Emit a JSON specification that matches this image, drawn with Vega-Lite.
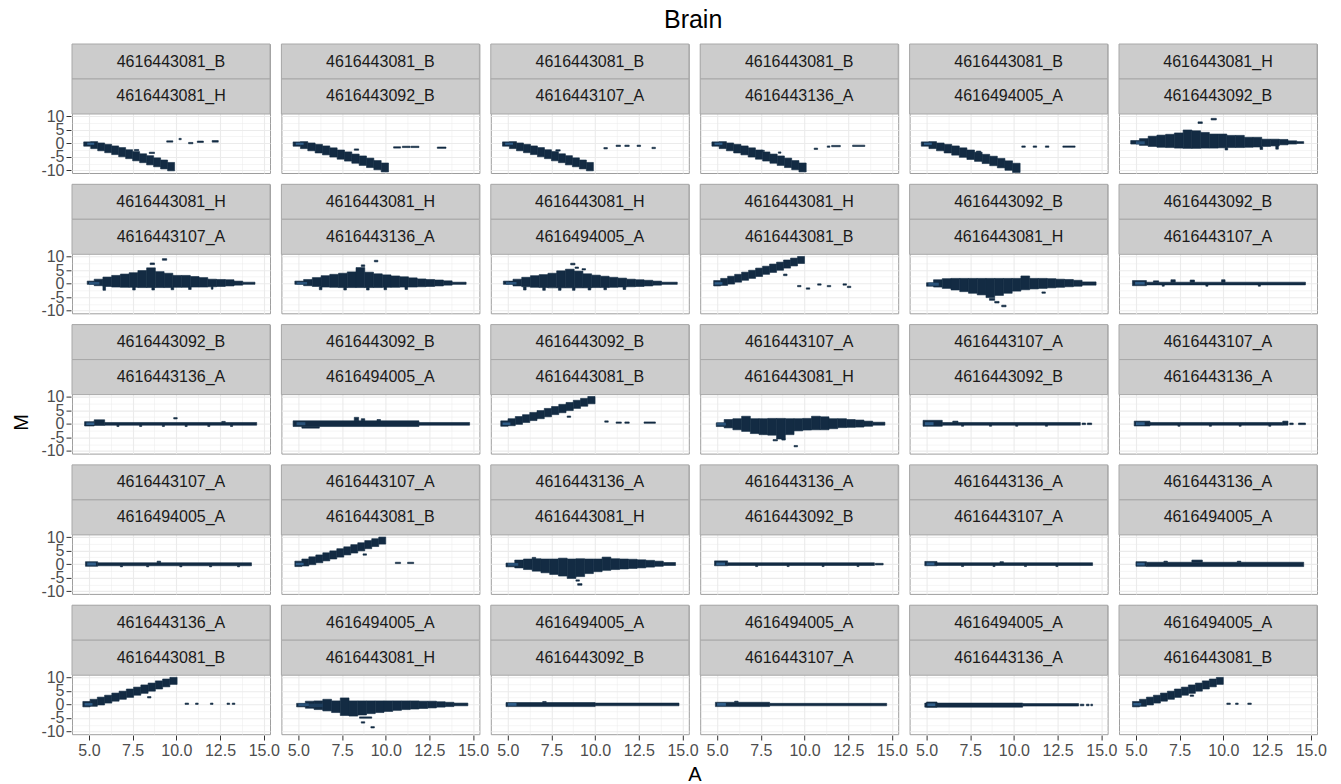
{
"$schema": "https://vega.github.io/schema/vega-lite/v6.json",
"background": "white",
"padding": {"left": 11, "top": 8, "right": 5, "bottom": 5},
"title": {"text": "Brain", "fontSize": 25, "font": "Liberation Sans", "fontWeight": "normal", "color": "#000000", "anchor": "middle", "dx": 24, "offset": 10},
"config": {
  "font": "Liberation Sans",
  "view": {"stroke": "#9E9E9E", "strokeWidth": 1},
  "axis": {"labelFont": "Liberation Sans", "labelFontSize": 16, "labelColor": "#4D4D4D", "tickColor": "#333333", "tickSize": 5, "domain": false, "gridColor": "#EBEBEB", "labelPadding": 2, "labelOverlap": false, "labelFlush": false, "title": null}
},
"data": {"values": [
{"r":1,"c":1,"s1":"4616443081_B","s2":"4616443081_H"},
{"r":1,"c":2,"s1":"4616443081_B","s2":"4616443092_B"},
{"r":1,"c":3,"s1":"4616443081_B","s2":"4616443107_A"},
{"r":1,"c":4,"s1":"4616443081_B","s2":"4616443136_A"},
{"r":1,"c":5,"s1":"4616443081_B","s2":"4616494005_A"},
{"r":1,"c":6,"s1":"4616443081_H","s2":"4616443092_B"},
{"r":2,"c":1,"s1":"4616443081_H","s2":"4616443107_A"},
{"r":2,"c":2,"s1":"4616443081_H","s2":"4616443136_A"},
{"r":2,"c":3,"s1":"4616443081_H","s2":"4616494005_A"},
{"r":2,"c":4,"s1":"4616443081_H","s2":"4616443081_B"},
{"r":2,"c":5,"s1":"4616443092_B","s2":"4616443081_H"},
{"r":2,"c":6,"s1":"4616443092_B","s2":"4616443107_A"},
{"r":3,"c":1,"s1":"4616443092_B","s2":"4616443136_A"},
{"r":3,"c":2,"s1":"4616443092_B","s2":"4616494005_A"},
{"r":3,"c":3,"s1":"4616443092_B","s2":"4616443081_B"},
{"r":3,"c":4,"s1":"4616443107_A","s2":"4616443081_H"},
{"r":3,"c":5,"s1":"4616443107_A","s2":"4616443092_B"},
{"r":3,"c":6,"s1":"4616443107_A","s2":"4616443136_A"},
{"r":4,"c":1,"s1":"4616443107_A","s2":"4616494005_A"},
{"r":4,"c":2,"s1":"4616443107_A","s2":"4616443081_B"},
{"r":4,"c":3,"s1":"4616443136_A","s2":"4616443081_H"},
{"r":4,"c":4,"s1":"4616443136_A","s2":"4616443092_B"},
{"r":4,"c":5,"s1":"4616443136_A","s2":"4616443107_A"},
{"r":4,"c":6,"s1":"4616443136_A","s2":"4616494005_A"},
{"r":5,"c":1,"s1":"4616443136_A","s2":"4616443081_B"},
{"r":5,"c":2,"s1":"4616494005_A","s2":"4616443081_H"},
{"r":5,"c":3,"s1":"4616494005_A","s2":"4616443092_B"},
{"r":5,"c":4,"s1":"4616494005_A","s2":"4616443107_A"},
{"r":5,"c":5,"s1":"4616494005_A","s2":"4616443136_A"},
{"r":5,"c":6,"s1":"4616494005_A","s2":"4616443081_B"},

{"r":1,"c":1,"a":4.7,"b":5.1,"m":-1.1,"n":0.5},
{"r":1,"c":1,"a":5.1,"b":5.5,"m":-2.0,"n":0.6},
{"r":1,"c":1,"a":5.5,"b":5.9,"m":-2.8,"n":0.1},
{"r":1,"c":1,"a":5.9,"b":6.3,"m":-3.5,"n":-0.4},
{"r":1,"c":1,"a":6.3,"b":6.7,"m":-4.2,"n":-1.0},
{"r":1,"c":1,"a":6.7,"b":7.1,"m":-5.0,"n":-1.6},
{"r":1,"c":1,"a":7.1,"b":7.5,"m":-5.7,"n":-2.4},
{"r":1,"c":1,"a":7.5,"b":7.9,"m":-6.5,"n":-3.1},
{"r":1,"c":1,"a":7.9,"b":8.3,"m":-7.2,"n":-3.9},
{"r":1,"c":1,"a":8.3,"b":8.7,"m":-8.0,"n":-4.6},
{"r":1,"c":1,"a":8.7,"b":9.1,"m":-8.7,"n":-5.4},
{"r":1,"c":1,"a":9.1,"b":9.5,"m":-9.5,"n":-6.2},
{"r":1,"c":1,"a":9.5,"b":9.9,"m":-10.2,"n":-7.1},
{"r":1,"c":1,"a":7.6,"b":7.85,"m":-2.8,"n":-2.3},
{"r":1,"c":1,"a":8.45,"b":8.75,"m":-3.8,"n":-3.3},
{"r":1,"c":1,"a":9.45,"b":9.8,"m":0.4,"n":0.9},
{"r":1,"c":1,"a":10.15,"b":10.28,"m":1.3,"n":1.8},
{"r":1,"c":1,"a":10.7,"b":10.95,"m":-0.2,"n":0.3},
{"r":1,"c":1,"a":11.2,"b":11.55,"m":0.3,"n":0.8},
{"r":1,"c":1,"a":12.05,"b":12.4,"m":0.4,"n":1.0},
{"r":1,"c":1,"a":4.9,"b":5.3,"m":-0.6,"n":0.2,"k":25},

{"r":1,"c":2,"a":4.7,"b":5.12,"m":-1.1,"n":0.5},
{"r":1,"c":2,"a":5.12,"b":5.54,"m":-2.0,"n":0.6},
{"r":1,"c":2,"a":5.54,"b":5.96,"m":-2.8,"n":0.1},
{"r":1,"c":2,"a":5.96,"b":6.38,"m":-3.6,"n":-0.4},
{"r":1,"c":2,"a":6.38,"b":6.8,"m":-4.3,"n":-1.0},
{"r":1,"c":2,"a":6.8,"b":7.22,"m":-5.1,"n":-1.7},
{"r":1,"c":2,"a":7.22,"b":7.64,"m":-5.9,"n":-2.5},
{"r":1,"c":2,"a":7.64,"b":8.06,"m":-6.6,"n":-3.2},
{"r":1,"c":2,"a":8.06,"b":8.48,"m":-7.4,"n":-4.0},
{"r":1,"c":2,"a":8.48,"b":8.9,"m":-8.2,"n":-4.7},
{"r":1,"c":2,"a":8.9,"b":9.32,"m":-9.0,"n":-5.5},
{"r":1,"c":2,"a":9.32,"b":9.74,"m":-9.8,"n":-6.4},
{"r":1,"c":2,"a":9.74,"b":10.16,"m":-10.6,"n":-7.3},
{"r":1,"c":2,"a":8.2,"b":8.45,"m":-2.6,"n":-2.1},
{"r":1,"c":2,"a":10.45,"b":10.85,"m":-1.8,"n":-1.3},
{"r":1,"c":2,"a":10.95,"b":11.4,"m":-1.6,"n":-1.1},
{"r":1,"c":2,"a":11.45,"b":11.9,"m":-1.6,"n":-1.1},
{"r":1,"c":2,"a":12.95,"b":13.45,"m":-1.9,"n":-1.4},
{"r":1,"c":2,"a":4.85,"b":5.3,"m":-0.6,"n":0.2,"k":25},

{"r":1,"c":3,"a":4.7,"b":5.1,"m":-1.1,"n":0.5},
{"r":1,"c":3,"a":5.1,"b":5.5,"m":-2.0,"n":0.6},
{"r":1,"c":3,"a":5.5,"b":5.9,"m":-2.8,"n":0.1},
{"r":1,"c":3,"a":5.9,"b":6.3,"m":-3.5,"n":-0.4},
{"r":1,"c":3,"a":6.3,"b":6.7,"m":-4.2,"n":-1.0},
{"r":1,"c":3,"a":6.7,"b":7.1,"m":-5.0,"n":-1.6},
{"r":1,"c":3,"a":7.1,"b":7.5,"m":-5.7,"n":-2.4},
{"r":1,"c":3,"a":7.5,"b":7.9,"m":-6.5,"n":-3.1},
{"r":1,"c":3,"a":7.9,"b":8.3,"m":-7.2,"n":-3.9},
{"r":1,"c":3,"a":8.3,"b":8.7,"m":-8.0,"n":-4.6},
{"r":1,"c":3,"a":8.7,"b":9.1,"m":-8.7,"n":-5.4},
{"r":1,"c":3,"a":9.1,"b":9.5,"m":-9.5,"n":-6.2},
{"r":1,"c":3,"a":9.5,"b":9.9,"m":-10.2,"n":-7.1},
{"r":1,"c":3,"a":7.75,"b":8.0,"m":-2.9,"n":-2.4},
{"r":1,"c":3,"a":10.5,"b":10.7,"m":-2.1,"n":-1.6},
{"r":1,"c":3,"a":11.2,"b":11.45,"m":-1.2,"n":-0.7},
{"r":1,"c":3,"a":11.7,"b":11.95,"m":-1.2,"n":-0.7},
{"r":1,"c":3,"a":12.4,"b":12.6,"m":-1.2,"n":-0.7},
{"r":1,"c":3,"a":13.25,"b":13.45,"m":-2.0,"n":-1.5},
{"r":1,"c":3,"a":4.85,"b":5.3,"m":-0.6,"n":0.2,"k":25},

{"r":1,"c":4,"a":4.7,"b":5.115,"m":-1.1,"n":0.5},
{"r":1,"c":4,"a":5.115,"b":5.53,"m":-2.0,"n":0.6},
{"r":1,"c":4,"a":5.53,"b":5.945,"m":-2.8,"n":0.1},
{"r":1,"c":4,"a":5.945,"b":6.36,"m":-3.6,"n":-0.4},
{"r":1,"c":4,"a":6.36,"b":6.775,"m":-4.3,"n":-1.0},
{"r":1,"c":4,"a":6.775,"b":7.19,"m":-5.1,"n":-1.7},
{"r":1,"c":4,"a":7.19,"b":7.605,"m":-5.9,"n":-2.5},
{"r":1,"c":4,"a":7.605,"b":8.02,"m":-6.6,"n":-3.2},
{"r":1,"c":4,"a":8.02,"b":8.435,"m":-7.4,"n":-4.0},
{"r":1,"c":4,"a":8.435,"b":8.85,"m":-8.2,"n":-4.7},
{"r":1,"c":4,"a":8.85,"b":9.265,"m":-9.0,"n":-5.5},
{"r":1,"c":4,"a":9.265,"b":9.68,"m":-9.8,"n":-6.4},
{"r":1,"c":4,"a":9.68,"b":10.095,"m":-10.6,"n":-7.3},
{"r":1,"c":4,"a":7.5,"b":7.7,"m":-3.1,"n":-2.6},
{"r":1,"c":4,"a":8.5,"b":8.65,"m":-3.7,"n":-3.2},
{"r":1,"c":4,"a":10.55,"b":10.75,"m":-2.3,"n":-1.8},
{"r":1,"c":4,"a":11.3,"b":11.45,"m":-1.5,"n":-1.0},
{"r":1,"c":4,"a":11.55,"b":12.05,"m":-1.3,"n":-0.8},
{"r":1,"c":4,"a":12.75,"b":13.45,"m":-1.2,"n":-0.7},
{"r":1,"c":4,"a":4.85,"b":5.3,"m":-0.6,"n":0.2,"k":25},

{"r":1,"c":5,"a":4.7,"b":5.135,"m":-1.1,"n":0.5},
{"r":1,"c":5,"a":5.135,"b":5.57,"m":-2.0,"n":0.6},
{"r":1,"c":5,"a":5.57,"b":6.005,"m":-2.8,"n":0.1},
{"r":1,"c":5,"a":6.005,"b":6.44,"m":-3.6,"n":-0.4},
{"r":1,"c":5,"a":6.44,"b":6.875,"m":-4.4,"n":-1.0},
{"r":1,"c":5,"a":6.875,"b":7.31,"m":-5.2,"n":-1.7},
{"r":1,"c":5,"a":7.31,"b":7.745,"m":-6.0,"n":-2.5},
{"r":1,"c":5,"a":7.745,"b":8.18,"m":-6.7,"n":-3.3},
{"r":1,"c":5,"a":8.18,"b":8.615,"m":-7.5,"n":-4.1},
{"r":1,"c":5,"a":8.615,"b":9.05,"m":-8.3,"n":-4.8},
{"r":1,"c":5,"a":9.05,"b":9.485,"m":-9.1,"n":-5.6},
{"r":1,"c":5,"a":9.485,"b":9.92,"m":-10.0,"n":-6.5},
{"r":1,"c":5,"a":9.92,"b":10.355,"m":-10.8,"n":-7.4},
{"r":1,"c":5,"a":7.85,"b":8.1,"m":-3.4,"n":-2.9},
{"r":1,"c":5,"a":10.45,"b":10.65,"m":-1.5,"n":-1.0},
{"r":1,"c":5,"a":11.1,"b":11.3,"m":-1.5,"n":-1.0},
{"r":1,"c":5,"a":11.8,"b":12.0,"m":-1.5,"n":-1.0},
{"r":1,"c":5,"a":12.8,"b":13.5,"m":-1.5,"n":-1.0},
{"r":1,"c":5,"a":4.85,"b":5.3,"m":-0.6,"n":0.2,"k":25},

{"r":1,"c":6,"a":4.7,"b":5.2,"m":-0.3,"n":1.0},
{"r":1,"c":6,"a":5.2,"b":5.7,"m":-0.8,"n":1.7},
{"r":1,"c":6,"a":5.7,"b":6.2,"m":-1.2,"n":2.6},
{"r":1,"c":6,"a":6.2,"b":6.7,"m":-1.5,"n":3.0},
{"r":1,"c":6,"a":6.7,"b":7.2,"m":-1.6,"n":3.3},
{"r":1,"c":6,"a":7.2,"b":7.7,"m":-1.8,"n":3.8},
{"r":1,"c":6,"a":7.7,"b":8.2,"m":-1.9,"n":4.9},
{"r":1,"c":6,"a":8.2,"b":8.7,"m":-1.9,"n":4.6},
{"r":1,"c":6,"a":8.7,"b":9.2,"m":-1.8,"n":4.0},
{"r":1,"c":6,"a":9.2,"b":9.7,"m":-1.8,"n":3.4},
{"r":1,"c":6,"a":9.7,"b":10.2,"m":-1.7,"n":3.4},
{"r":1,"c":6,"a":10.2,"b":10.7,"m":-1.6,"n":2.9},
{"r":1,"c":6,"a":10.7,"b":11.2,"m":-1.6,"n":2.9},
{"r":1,"c":6,"a":11.2,"b":11.7,"m":-1.5,"n":2.2},
{"r":1,"c":6,"a":11.7,"b":12.2,"m":-1.4,"n":2.2},
{"r":1,"c":6,"a":12.2,"b":12.7,"m":-1.2,"n":1.5},
{"r":1,"c":6,"a":12.7,"b":13.2,"m":-1.0,"n":1.5},
{"r":1,"c":6,"a":13.2,"b":13.7,"m":-0.6,"n":1.4},
{"r":1,"c":6,"a":13.7,"b":14.2,"m":-0.3,"n":0.9},
{"r":1,"c":6,"a":14.2,"b":14.6,"m":-0.1,"n":0.6},
{"r":1,"c":6,"a":10.1,"b":10.25,"m":-2.5,"n":-1.7},
{"r":1,"c":6,"a":12.1,"b":12.25,"m":-2.3,"n":-1.4},
{"r":1,"c":6,"a":13.0,"b":13.15,"m":-2.2,"n":-1.0},
{"r":1,"c":6,"a":8.55,"b":8.8,"m":7.3,"n":7.9},
{"r":1,"c":6,"a":9.3,"b":9.6,"m":8.6,"n":9.2},
{"r":1,"c":6,"a":5.0,"b":5.5,"m":-0.4,"n":0.7,"k":20},

{"r":2,"c":1,"a":4.9,"b":5.3,"m":-0.3,"n":0.9},
{"r":2,"c":1,"a":5.3,"b":5.8,"m":-0.8,"n":1.6},
{"r":2,"c":1,"a":5.8,"b":6.3,"m":-1.1,"n":2.4},
{"r":2,"c":1,"a":6.3,"b":6.8,"m":-1.3,"n":3.0},
{"r":2,"c":1,"a":6.8,"b":7.3,"m":-1.4,"n":3.5},
{"r":2,"c":1,"a":7.3,"b":7.8,"m":-1.4,"n":4.0},
{"r":2,"c":1,"a":7.8,"b":8.3,"m":-1.5,"n":4.8},
{"r":2,"c":1,"a":8.3,"b":8.8,"m":-1.5,"n":5.8},
{"r":2,"c":1,"a":8.8,"b":9.3,"m":-1.5,"n":4.4},
{"r":2,"c":1,"a":9.3,"b":9.8,"m":-1.5,"n":3.8},
{"r":2,"c":1,"a":9.8,"b":10.3,"m":-1.4,"n":3.0},
{"r":2,"c":1,"a":10.3,"b":10.8,"m":-1.4,"n":3.0},
{"r":2,"c":1,"a":10.8,"b":11.3,"m":-1.3,"n":2.6},
{"r":2,"c":1,"a":11.3,"b":11.8,"m":-1.3,"n":2.2},
{"r":2,"c":1,"a":11.8,"b":12.3,"m":-1.2,"n":1.6},
{"r":2,"c":1,"a":12.3,"b":12.8,"m":-1.1,"n":1.5},
{"r":2,"c":1,"a":12.8,"b":13.3,"m":-0.9,"n":1.4},
{"r":2,"c":1,"a":13.3,"b":13.8,"m":-0.6,"n":0.9},
{"r":2,"c":1,"a":13.8,"b":14.5,"m":-0.3,"n":0.5},
{"r":2,"c":1,"a":5.8,"b":5.95,"m":-2.5,"n":-1.0},
{"r":2,"c":1,"a":7.5,"b":7.65,"m":-2.4,"n":-1.3},
{"r":2,"c":1,"a":8.6,"b":8.75,"m":-2.4,"n":-1.4},
{"r":2,"c":1,"a":9.7,"b":9.85,"m":-2.3,"n":-1.4},
{"r":2,"c":1,"a":10.7,"b":10.85,"m":-2.2,"n":-1.3},
{"r":2,"c":1,"a":12.0,"b":12.1,"m":-2.1,"n":-1.1},
{"r":2,"c":1,"a":8.5,"b":8.75,"m":7.0,"n":7.6},
{"r":2,"c":1,"a":9.2,"b":9.45,"m":8.6,"n":9.2},
{"r":2,"c":1,"a":5.0,"b":5.6,"m":-0.4,"n":0.6,"k":20},

{"r":2,"c":2,"a":4.8,"b":5.3,"m":-0.3,"n":0.9},
{"r":2,"c":2,"a":5.3,"b":5.8,"m":-0.8,"n":1.5},
{"r":2,"c":2,"a":5.8,"b":6.3,"m":-1.1,"n":2.2},
{"r":2,"c":2,"a":6.3,"b":6.8,"m":-1.3,"n":2.9},
{"r":2,"c":2,"a":6.8,"b":7.3,"m":-1.4,"n":3.4},
{"r":2,"c":2,"a":7.3,"b":7.8,"m":-1.5,"n":3.8},
{"r":2,"c":2,"a":7.8,"b":8.3,"m":-1.5,"n":4.3},
{"r":2,"c":2,"a":8.3,"b":8.8,"m":-1.5,"n":5.9},
{"r":2,"c":2,"a":8.8,"b":9.3,"m":-1.5,"n":4.2},
{"r":2,"c":2,"a":9.3,"b":9.8,"m":-1.5,"n":3.6},
{"r":2,"c":2,"a":9.8,"b":10.3,"m":-1.4,"n":3.2},
{"r":2,"c":2,"a":10.3,"b":10.8,"m":-1.4,"n":2.8},
{"r":2,"c":2,"a":10.8,"b":11.3,"m":-1.3,"n":2.5},
{"r":2,"c":2,"a":11.3,"b":11.8,"m":-1.3,"n":2.1},
{"r":2,"c":2,"a":11.8,"b":12.3,"m":-1.2,"n":1.7},
{"r":2,"c":2,"a":12.3,"b":12.8,"m":-1.1,"n":1.5},
{"r":2,"c":2,"a":12.8,"b":13.3,"m":-0.9,"n":1.3},
{"r":2,"c":2,"a":13.3,"b":13.8,"m":-0.6,"n":1.0},
{"r":2,"c":2,"a":13.8,"b":14.6,"m":-0.3,"n":0.5},
{"r":2,"c":2,"a":6.2,"b":6.35,"m":-2.3,"n":-1.2},
{"r":2,"c":2,"a":7.6,"b":7.75,"m":-2.4,"n":-1.4},
{"r":2,"c":2,"a":8.9,"b":9.05,"m":-2.4,"n":-1.4},
{"r":2,"c":2,"a":9.9,"b":10.05,"m":-2.3,"n":-1.3},
{"r":2,"c":2,"a":11.1,"b":11.25,"m":-2.2,"n":-1.2},
{"r":2,"c":2,"a":8.6,"b":8.8,"m":6.3,"n":6.9},
{"r":2,"c":2,"a":9.35,"b":9.55,"m":8.0,"n":8.6},
{"r":2,"c":2,"a":4.9,"b":5.5,"m":-0.4,"n":0.6,"k":20},

{"r":2,"c":3,"a":4.75,"b":5.3,"m":-0.3,"n":0.9},
{"r":2,"c":3,"a":5.3,"b":5.8,"m":-0.9,"n":1.6},
{"r":2,"c":3,"a":5.8,"b":6.3,"m":-1.2,"n":2.3},
{"r":2,"c":3,"a":6.3,"b":6.8,"m":-1.4,"n":2.9},
{"r":2,"c":3,"a":6.8,"b":7.3,"m":-1.5,"n":3.3},
{"r":2,"c":3,"a":7.3,"b":7.8,"m":-1.6,"n":3.8},
{"r":2,"c":3,"a":7.8,"b":8.3,"m":-1.6,"n":4.7},
{"r":2,"c":3,"a":8.3,"b":8.8,"m":-1.6,"n":5.3},
{"r":2,"c":3,"a":8.8,"b":9.3,"m":-1.6,"n":4.6},
{"r":2,"c":3,"a":9.3,"b":9.8,"m":-1.6,"n":3.6},
{"r":2,"c":3,"a":9.8,"b":10.3,"m":-1.5,"n":3.1},
{"r":2,"c":3,"a":10.3,"b":10.8,"m":-1.5,"n":2.7},
{"r":2,"c":3,"a":10.8,"b":11.3,"m":-1.4,"n":2.3},
{"r":2,"c":3,"a":11.3,"b":11.8,"m":-1.3,"n":2.0},
{"r":2,"c":3,"a":11.8,"b":12.3,"m":-1.2,"n":1.6},
{"r":2,"c":3,"a":12.3,"b":12.8,"m":-1.1,"n":1.4},
{"r":2,"c":3,"a":12.8,"b":13.3,"m":-0.9,"n":1.2},
{"r":2,"c":3,"a":13.3,"b":13.8,"m":-0.6,"n":0.9},
{"r":2,"c":3,"a":13.8,"b":14.7,"m":-0.3,"n":0.5},
{"r":2,"c":3,"a":5.9,"b":6.05,"m":-2.4,"n":-1.2},
{"r":2,"c":3,"a":7.0,"b":7.15,"m":-2.5,"n":-1.4},
{"r":2,"c":3,"a":7.9,"b":8.05,"m":-2.5,"n":-1.5},
{"r":2,"c":3,"a":8.7,"b":8.85,"m":-2.5,"n":-1.5},
{"r":2,"c":3,"a":9.6,"b":9.75,"m":-2.4,"n":-1.5},
{"r":2,"c":3,"a":10.5,"b":10.65,"m":-2.3,"n":-1.4},
{"r":2,"c":3,"a":11.6,"b":11.75,"m":-2.2,"n":-1.3},
{"r":2,"c":3,"a":8.6,"b":8.85,"m":6.9,"n":7.5},
{"r":2,"c":3,"a":8.85,"b":9.05,"m":5.6,"n":6.1},
{"r":2,"c":3,"a":9.25,"b":9.45,"m":5.0,"n":5.5},
{"r":2,"c":3,"a":4.9,"b":5.5,"m":-0.4,"n":0.6,"k":20},

{"r":2,"c":4,"a":4.8,"b":5.2,"m":-0.9,"n":1.1},
{"r":2,"c":4,"a":5.2,"b":5.6,"m":-0.7,"n":1.9},
{"r":2,"c":4,"a":5.6,"b":6.0,"m":-0.2,"n":2.7},
{"r":2,"c":4,"a":6.0,"b":6.4,"m":0.5,"n":3.4},
{"r":2,"c":4,"a":6.4,"b":6.8,"m":1.2,"n":4.2},
{"r":2,"c":4,"a":6.8,"b":7.2,"m":1.9,"n":4.9},
{"r":2,"c":4,"a":7.2,"b":7.6,"m":2.6,"n":5.7},
{"r":2,"c":4,"a":7.6,"b":8.0,"m":3.4,"n":6.4},
{"r":2,"c":4,"a":8.0,"b":8.4,"m":4.1,"n":7.2},
{"r":2,"c":4,"a":8.4,"b":8.8,"m":4.9,"n":7.9},
{"r":2,"c":4,"a":8.8,"b":9.2,"m":5.7,"n":8.7},
{"r":2,"c":4,"a":9.2,"b":9.6,"m":6.5,"n":9.4},
{"r":2,"c":4,"a":9.6,"b":10.0,"m":7.4,"n":10.0},
{"r":2,"c":4,"a":8.8,"b":9.0,"m":2.9,"n":3.5},
{"r":2,"c":4,"a":9.6,"b":9.8,"m":-1.2,"n":-0.7},
{"r":2,"c":4,"a":10.1,"b":10.3,"m":-2.1,"n":-1.6},
{"r":2,"c":4,"a":10.75,"b":10.95,"m":-0.6,"n":-0.1},
{"r":2,"c":4,"a":11.3,"b":11.5,"m":-1.2,"n":-0.7},
{"r":2,"c":4,"a":12.2,"b":12.4,"m":-0.6,"n":-0.1},
{"r":2,"c":4,"a":12.45,"b":12.65,"m":-1.5,"n":-1.0},
{"r":2,"c":4,"a":4.85,"b":5.3,"m":-0.4,"n":0.5,"k":25},

{"r":2,"c":5,"a":5.0,"b":5.4,"m":-1.0,"n":0.3},
{"r":2,"c":5,"a":5.4,"b":5.9,"m":-1.3,"n":1.4},
{"r":2,"c":5,"a":5.9,"b":6.4,"m":-1.8,"n":1.8},
{"r":2,"c":5,"a":6.4,"b":6.9,"m":-2.4,"n":1.9},
{"r":2,"c":5,"a":6.9,"b":7.4,"m":-3.0,"n":1.9},
{"r":2,"c":5,"a":7.4,"b":7.9,"m":-3.6,"n":1.9},
{"r":2,"c":5,"a":7.9,"b":8.4,"m":-4.2,"n":1.9},
{"r":2,"c":5,"a":8.4,"b":8.9,"m":-5.2,"n":1.9},
{"r":2,"c":5,"a":8.9,"b":9.4,"m":-4.4,"n":1.9},
{"r":2,"c":5,"a":9.4,"b":9.9,"m":-3.6,"n":1.9},
{"r":2,"c":5,"a":9.9,"b":10.4,"m":-2.8,"n":1.9},
{"r":2,"c":5,"a":10.4,"b":10.9,"m":-2.3,"n":2.8},
{"r":2,"c":5,"a":10.9,"b":11.4,"m":-2.0,"n":1.9},
{"r":2,"c":5,"a":11.4,"b":11.9,"m":-1.8,"n":1.9},
{"r":2,"c":5,"a":11.9,"b":12.4,"m":-1.6,"n":1.8},
{"r":2,"c":5,"a":12.4,"b":12.9,"m":-1.4,"n":1.6},
{"r":2,"c":5,"a":12.9,"b":13.4,"m":-1.2,"n":1.5},
{"r":2,"c":5,"a":13.4,"b":13.9,"m":-1.0,"n":1.2},
{"r":2,"c":5,"a":13.9,"b":14.7,"m":-0.6,"n":0.6},
{"r":2,"c":5,"a":8.6,"b":8.9,"m":-6.2,"n":-5.5},
{"r":2,"c":5,"a":8.9,"b":9.15,"m":-7.2,"n":-6.6},
{"r":2,"c":5,"a":9.3,"b":9.55,"m":-8.6,"n":-8.0},
{"r":2,"c":5,"a":11.6,"b":11.8,"m":-3.6,"n":-3.1},
{"r":2,"c":5,"a":5.1,"b":5.7,"m":-0.8,"n":0.3,"k":20},

{"r":2,"c":6,"a":4.8,"b":5.6,"m":-0.8,"n":1.1},
{"r":2,"c":6,"a":5.6,"b":14.7,"m":-0.5,"n":0.5},
{"r":2,"c":6,"a":6.0,"b":6.3,"m":0.5,"n":1.0},
{"r":2,"c":6,"a":7.0,"b":7.25,"m":0.5,"n":1.4},
{"r":2,"c":6,"a":8.1,"b":8.35,"m":0.5,"n":1.3},
{"r":2,"c":6,"a":9.9,"b":10.1,"m":0.5,"n":1.4},
{"r":2,"c":6,"a":6.5,"b":6.62,"m":-1.0,"n":-0.5},
{"r":2,"c":6,"a":9.0,"b":9.12,"m":-1.0,"n":-0.5},
{"r":2,"c":6,"a":12.0,"b":12.12,"m":-1.0,"n":-0.5},
{"r":2,"c":6,"a":4.95,"b":5.5,"m":-0.4,"n":0.6,"k":25},

{"r":3,"c":1,"a":4.75,"b":5.3,"m":-0.8,"n":0.8},
{"r":3,"c":1,"a":5.3,"b":5.9,"m":-0.6,"n":1.5},
{"r":3,"c":1,"a":5.9,"b":14.6,"m":-0.5,"n":0.5},
{"r":3,"c":1,"a":6.6,"b":6.72,"m":-1.0,"n":-0.5},
{"r":3,"c":1,"a":7.9,"b":8.02,"m":-1.0,"n":-0.5},
{"r":3,"c":1,"a":9.2,"b":9.32,"m":-1.0,"n":-0.5},
{"r":3,"c":1,"a":10.5,"b":10.62,"m":-1.0,"n":-0.5},
{"r":3,"c":1,"a":11.8,"b":11.92,"m":-1.0,"n":-0.5},
{"r":3,"c":1,"a":13.1,"b":13.22,"m":-1.0,"n":-0.5},
{"r":3,"c":1,"a":9.85,"b":10.05,"m":1.8,"n":2.3},
{"r":3,"c":1,"a":12.6,"b":12.8,"m":0.5,"n":0.9},
{"r":3,"c":1,"a":4.85,"b":5.3,"m":-0.4,"n":0.5,"k":25},

{"r":3,"c":2,"a":4.7,"b":11.9,"m":-1.0,"n":1.1},
{"r":3,"c":2,"a":11.9,"b":14.8,"m":-0.5,"n":0.5},
{"r":3,"c":2,"a":8.2,"b":8.45,"m":1.1,"n":2.4},
{"r":3,"c":2,"a":8.6,"b":8.8,"m":1.1,"n":1.9},
{"r":3,"c":2,"a":5.2,"b":6.2,"m":-1.6,"n":-1.0},
{"r":3,"c":2,"a":9.5,"b":9.7,"m":1.1,"n":1.6},
{"r":3,"c":2,"a":4.9,"b":5.4,"m":-0.5,"n":0.6,"k":20},

{"r":3,"c":3,"a":4.6,"b":5.015,"m":-0.9,"n":1.1},
{"r":3,"c":3,"a":5.015,"b":5.43,"m":-0.7,"n":1.9},
{"r":3,"c":3,"a":5.43,"b":5.845,"m":-0.2,"n":2.7},
{"r":3,"c":3,"a":5.845,"b":6.26,"m":0.5,"n":3.4},
{"r":3,"c":3,"a":6.26,"b":6.675,"m":1.2,"n":4.2},
{"r":3,"c":3,"a":6.675,"b":7.09,"m":1.9,"n":4.9},
{"r":3,"c":3,"a":7.09,"b":7.505,"m":2.6,"n":5.7},
{"r":3,"c":3,"a":7.505,"b":7.92,"m":3.4,"n":6.4},
{"r":3,"c":3,"a":7.92,"b":8.335,"m":4.1,"n":7.2},
{"r":3,"c":3,"a":8.335,"b":8.75,"m":4.9,"n":7.9},
{"r":3,"c":3,"a":8.75,"b":9.165,"m":5.7,"n":8.7},
{"r":3,"c":3,"a":9.165,"b":9.58,"m":6.5,"n":9.4},
{"r":3,"c":3,"a":9.58,"b":9.995,"m":7.4,"n":10.1},
{"r":3,"c":3,"a":8.4,"b":8.6,"m":2.4,"n":2.9},
{"r":3,"c":3,"a":10.55,"b":10.75,"m":0.6,"n":1.1},
{"r":3,"c":3,"a":11.2,"b":11.5,"m":0.2,"n":0.7},
{"r":3,"c":3,"a":11.7,"b":11.95,"m":0.2,"n":0.7},
{"r":3,"c":3,"a":12.8,"b":13.45,"m":0.2,"n":0.7},
{"r":3,"c":3,"a":4.7,"b":5.15,"m":-0.4,"n":0.5,"k":25},

{"r":3,"c":4,"a":4.95,"b":5.4,"m":-1.0,"n":0.4},
{"r":3,"c":4,"a":5.4,"b":5.9,"m":-1.5,"n":1.6},
{"r":3,"c":4,"a":5.9,"b":6.4,"m":-2.2,"n":1.9},
{"r":3,"c":4,"a":6.4,"b":6.9,"m":-2.8,"n":2.8},
{"r":3,"c":4,"a":6.9,"b":7.4,"m":-3.6,"n":1.9},
{"r":3,"c":4,"a":7.4,"b":7.9,"m":-4.0,"n":1.9},
{"r":3,"c":4,"a":7.9,"b":8.4,"m":-4.2,"n":2.0},
{"r":3,"c":4,"a":8.4,"b":8.9,"m":-5.6,"n":2.0},
{"r":3,"c":4,"a":8.9,"b":9.4,"m":-4.0,"n":1.9},
{"r":3,"c":4,"a":9.4,"b":9.9,"m":-2.6,"n":1.9},
{"r":3,"c":4,"a":9.9,"b":10.4,"m":-2.3,"n":2.0},
{"r":3,"c":4,"a":10.4,"b":10.9,"m":-2.2,"n":2.8},
{"r":3,"c":4,"a":10.9,"b":11.4,"m":-2.2,"n":2.6},
{"r":3,"c":4,"a":11.4,"b":11.9,"m":-1.8,"n":1.9},
{"r":3,"c":4,"a":11.9,"b":12.4,"m":-1.4,"n":1.9},
{"r":3,"c":4,"a":12.4,"b":12.9,"m":-1.3,"n":1.6},
{"r":3,"c":4,"a":12.9,"b":13.4,"m":-1.2,"n":1.4},
{"r":3,"c":4,"a":13.4,"b":13.9,"m":-0.9,"n":1.0},
{"r":3,"c":4,"a":13.9,"b":14.6,"m":-0.5,"n":0.6},
{"r":3,"c":4,"a":8.2,"b":8.45,"m":-6.3,"n":-5.8},
{"r":3,"c":4,"a":8.7,"b":8.9,"m":-6.0,"n":-5.6},
{"r":3,"c":4,"a":9.4,"b":9.6,"m":-8.5,"n":-8.0},
{"r":3,"c":4,"a":5.0,"b":5.5,"m":-0.6,"n":0.4,"k":20},

{"r":3,"c":5,"a":4.8,"b":5.9,"m":-0.9,"n":1.3},
{"r":3,"c":5,"a":5.9,"b":13.8,"m":-0.5,"n":0.5},
{"r":3,"c":5,"a":13.9,"b":14.1,"m":-0.3,"n":0.3},
{"r":3,"c":5,"a":14.2,"b":14.45,"m":-0.3,"n":0.3},
{"r":3,"c":5,"a":6.5,"b":6.8,"m":0.5,"n":1.0},
{"r":3,"c":5,"a":7.0,"b":7.12,"m":-0.9,"n":-0.5},
{"r":3,"c":5,"a":8.6,"b":8.72,"m":-0.9,"n":-0.5},
{"r":3,"c":5,"a":10.1,"b":10.22,"m":-0.9,"n":-0.5},
{"r":3,"c":5,"a":11.8,"b":11.92,"m":-0.9,"n":-0.5},
{"r":3,"c":5,"a":4.9,"b":5.4,"m":-0.5,"n":0.6,"k":25},

{"r":3,"c":6,"a":4.9,"b":5.8,"m":-0.8,"n":1.0},
{"r":3,"c":6,"a":5.8,"b":13.4,"m":-0.5,"n":0.5},
{"r":3,"c":6,"a":13.4,"b":13.7,"m":-0.5,"n":1.0},
{"r":3,"c":6,"a":13.8,"b":14.0,"m":-0.3,"n":0.3},
{"r":3,"c":6,"a":14.3,"b":14.7,"m":-0.3,"n":0.3},
{"r":3,"c":6,"a":7.4,"b":7.52,"m":-0.9,"n":-0.5},
{"r":3,"c":6,"a":9.2,"b":9.32,"m":-0.9,"n":-0.5},
{"r":3,"c":6,"a":10.9,"b":11.02,"m":-0.9,"n":-0.5},
{"r":3,"c":6,"a":12.6,"b":12.72,"m":-0.9,"n":-0.5},
{"r":3,"c":6,"a":5.0,"b":5.5,"m":-0.5,"n":0.6,"k":25},

{"r":4,"c":1,"a":4.8,"b":5.5,"m":-0.8,"n":0.9},
{"r":4,"c":1,"a":5.5,"b":14.3,"m":-0.6,"n":0.5},
{"r":4,"c":1,"a":8.9,"b":9.1,"m":0.5,"n":1.1},
{"r":4,"c":1,"a":6.8,"b":6.92,"m":-1.0,"n":-0.6},
{"r":4,"c":1,"a":8.3,"b":8.42,"m":-1.0,"n":-0.6},
{"r":4,"c":1,"a":10.2,"b":10.32,"m":-1.0,"n":-0.6},
{"r":4,"c":1,"a":11.9,"b":12.02,"m":-1.0,"n":-0.6},
{"r":4,"c":1,"a":13.5,"b":13.62,"m":-1.0,"n":-0.6},
{"r":4,"c":1,"a":4.9,"b":5.4,"m":-0.5,"n":0.6,"k":25},

{"r":4,"c":2,"a":4.8,"b":5.2,"m":-0.9,"n":1.1},
{"r":4,"c":2,"a":5.2,"b":5.6,"m":-0.7,"n":1.9},
{"r":4,"c":2,"a":5.6,"b":6.0,"m":-0.2,"n":2.7},
{"r":4,"c":2,"a":6.0,"b":6.4,"m":0.5,"n":3.4},
{"r":4,"c":2,"a":6.4,"b":6.8,"m":1.2,"n":4.2},
{"r":4,"c":2,"a":6.8,"b":7.2,"m":1.9,"n":4.9},
{"r":4,"c":2,"a":7.2,"b":7.6,"m":2.6,"n":5.7},
{"r":4,"c":2,"a":7.6,"b":8.0,"m":3.4,"n":6.4},
{"r":4,"c":2,"a":8.0,"b":8.4,"m":4.1,"n":7.2},
{"r":4,"c":2,"a":8.4,"b":8.8,"m":4.9,"n":7.9},
{"r":4,"c":2,"a":8.8,"b":9.2,"m":5.7,"n":8.7},
{"r":4,"c":2,"a":9.2,"b":9.6,"m":6.5,"n":9.4},
{"r":4,"c":2,"a":9.6,"b":10.0,"m":7.4,"n":10.0},
{"r":4,"c":2,"a":8.7,"b":8.9,"m":3.3,"n":3.8},
{"r":4,"c":2,"a":10.55,"b":10.85,"m":0.2,"n":0.7},
{"r":4,"c":2,"a":11.25,"b":11.6,"m":0.2,"n":0.7},
{"r":4,"c":2,"a":4.85,"b":5.3,"m":-0.4,"n":0.5,"k":25},

{"r":4,"c":3,"a":4.9,"b":5.4,"m":-1.0,"n":0.4},
{"r":4,"c":3,"a":5.4,"b":5.9,"m":-1.4,"n":1.5},
{"r":4,"c":3,"a":5.9,"b":6.4,"m":-2.0,"n":1.9},
{"r":4,"c":3,"a":6.4,"b":6.9,"m":-2.6,"n":2.0},
{"r":4,"c":3,"a":6.9,"b":7.4,"m":-3.2,"n":1.9},
{"r":4,"c":3,"a":7.4,"b":7.9,"m":-3.8,"n":1.9},
{"r":4,"c":3,"a":7.9,"b":8.4,"m":-4.4,"n":2.2},
{"r":4,"c":3,"a":8.4,"b":8.9,"m":-5.3,"n":1.9},
{"r":4,"c":3,"a":8.9,"b":9.4,"m":-4.6,"n":2.0},
{"r":4,"c":3,"a":9.4,"b":9.9,"m":-3.5,"n":1.9},
{"r":4,"c":3,"a":9.9,"b":10.4,"m":-2.8,"n":1.9},
{"r":4,"c":3,"a":10.4,"b":10.9,"m":-2.3,"n":2.6},
{"r":4,"c":3,"a":10.9,"b":11.4,"m":-2.0,"n":2.0},
{"r":4,"c":3,"a":11.4,"b":11.9,"m":-1.8,"n":1.9},
{"r":4,"c":3,"a":11.9,"b":12.4,"m":-1.6,"n":1.8},
{"r":4,"c":3,"a":12.4,"b":12.9,"m":-1.4,"n":1.6},
{"r":4,"c":3,"a":12.9,"b":13.4,"m":-1.1,"n":1.4},
{"r":4,"c":3,"a":13.4,"b":13.9,"m":-0.8,"n":1.1},
{"r":4,"c":3,"a":13.9,"b":14.6,"m":-0.5,"n":0.6},
{"r":4,"c":3,"a":8.9,"b":9.1,"m":-6.3,"n":-5.8},
{"r":4,"c":3,"a":9.0,"b":9.25,"m":-7.8,"n":-7.2},
{"r":4,"c":3,"a":6.4,"b":6.6,"m":2.0,"n":2.5},
{"r":4,"c":3,"a":5.0,"b":5.6,"m":-0.6,"n":0.4,"k":20},

{"r":4,"c":4,"a":4.85,"b":5.6,"m":-0.6,"n":1.2},
{"r":4,"c":4,"a":5.6,"b":14.0,"m":-0.5,"n":0.5},
{"r":4,"c":4,"a":14.05,"b":14.5,"m":-0.3,"n":0.3},
{"r":4,"c":4,"a":7.2,"b":7.32,"m":-0.9,"n":-0.5},
{"r":4,"c":4,"a":9.0,"b":9.12,"m":-0.9,"n":-0.5},
{"r":4,"c":4,"a":11.0,"b":11.12,"m":-0.9,"n":-0.5},
{"r":4,"c":4,"a":13.0,"b":13.12,"m":-0.9,"n":-0.5},
{"r":4,"c":4,"a":4.95,"b":5.45,"m":-0.4,"n":0.6,"k":25},

{"r":4,"c":5,"a":4.9,"b":5.6,"m":-0.6,"n":1.0},
{"r":4,"c":5,"a":5.6,"b":14.5,"m":-0.5,"n":0.5},
{"r":4,"c":5,"a":9.2,"b":9.4,"m":0.5,"n":0.9},
{"r":4,"c":5,"a":7.0,"b":7.12,"m":-0.9,"n":-0.5},
{"r":4,"c":5,"a":8.8,"b":8.92,"m":-0.9,"n":-0.5},
{"r":4,"c":5,"a":10.6,"b":10.72,"m":-0.9,"n":-0.5},
{"r":4,"c":5,"a":12.4,"b":12.52,"m":-0.9,"n":-0.5},
{"r":4,"c":5,"a":5.0,"b":5.45,"m":-0.4,"n":0.6,"k":25},

{"r":4,"c":6,"a":5.0,"b":5.6,"m":-0.8,"n":0.9},
{"r":4,"c":6,"a":5.6,"b":14.6,"m":-0.9,"n":0.7},
{"r":4,"c":6,"a":8.2,"b":8.8,"m":0.7,"n":1.5},
{"r":4,"c":6,"a":6.6,"b":6.8,"m":0.7,"n":1.1},
{"r":4,"c":6,"a":10.8,"b":11.0,"m":0.7,"n":1.1},
{"r":4,"c":6,"a":5.05,"b":5.5,"m":-0.5,"n":0.5,"k":25},

{"r":5,"c":1,"a":4.65,"b":5.065,"m":-0.9,"n":1.1},
{"r":5,"c":1,"a":5.065,"b":5.48,"m":-0.7,"n":1.9},
{"r":5,"c":1,"a":5.48,"b":5.895,"m":-0.2,"n":2.7},
{"r":5,"c":1,"a":5.895,"b":6.31,"m":0.5,"n":3.4},
{"r":5,"c":1,"a":6.31,"b":6.725,"m":1.2,"n":4.2},
{"r":5,"c":1,"a":6.725,"b":7.14,"m":1.9,"n":4.9},
{"r":5,"c":1,"a":7.14,"b":7.555,"m":2.6,"n":5.7},
{"r":5,"c":1,"a":7.555,"b":7.97,"m":3.4,"n":6.4},
{"r":5,"c":1,"a":7.97,"b":8.385,"m":4.1,"n":7.2},
{"r":5,"c":1,"a":8.385,"b":8.8,"m":4.9,"n":7.9},
{"r":5,"c":1,"a":8.8,"b":9.215,"m":5.7,"n":8.7},
{"r":5,"c":1,"a":9.215,"b":9.63,"m":6.5,"n":9.4},
{"r":5,"c":1,"a":9.63,"b":10.045,"m":7.4,"n":10.0},
{"r":5,"c":1,"a":8.35,"b":8.55,"m":2.4,"n":2.9},
{"r":5,"c":1,"a":10.5,"b":10.7,"m":0.0,"n":0.5},
{"r":5,"c":1,"a":11.1,"b":11.25,"m":0.0,"n":0.5},
{"r":5,"c":1,"a":11.95,"b":12.1,"m":0.0,"n":0.5},
{"r":5,"c":1,"a":12.9,"b":13.05,"m":0.0,"n":0.5},
{"r":5,"c":1,"a":13.2,"b":13.35,"m":0.0,"n":0.5},
{"r":5,"c":1,"a":4.75,"b":5.2,"m":-0.4,"n":0.5,"k":25},

{"r":5,"c":2,"a":4.9,"b":5.4,"m":-0.9,"n":0.4},
{"r":5,"c":2,"a":5.4,"b":5.9,"m":-1.4,"n":1.2},
{"r":5,"c":2,"a":5.9,"b":6.4,"m":-1.9,"n":1.3},
{"r":5,"c":2,"a":6.4,"b":6.9,"m":-2.4,"n":1.9},
{"r":5,"c":2,"a":6.9,"b":7.4,"m":-3.0,"n":1.3},
{"r":5,"c":2,"a":7.4,"b":7.9,"m":-4.1,"n":2.4},
{"r":5,"c":2,"a":7.9,"b":8.4,"m":-4.3,"n":1.3},
{"r":5,"c":2,"a":8.4,"b":8.9,"m":-3.9,"n":1.3},
{"r":5,"c":2,"a":8.9,"b":9.4,"m":-3.4,"n":1.3},
{"r":5,"c":2,"a":9.4,"b":9.9,"m":-3.0,"n":1.3},
{"r":5,"c":2,"a":9.9,"b":10.4,"m":-2.6,"n":1.3},
{"r":5,"c":2,"a":10.4,"b":10.9,"m":-2.2,"n":1.3},
{"r":5,"c":2,"a":10.9,"b":11.4,"m":-1.9,"n":1.3},
{"r":5,"c":2,"a":11.4,"b":11.9,"m":-1.7,"n":1.3},
{"r":5,"c":2,"a":11.9,"b":12.4,"m":-1.5,"n":1.2},
{"r":5,"c":2,"a":12.4,"b":12.9,"m":-1.3,"n":1.2},
{"r":5,"c":2,"a":12.9,"b":13.4,"m":-1.0,"n":1.0},
{"r":5,"c":2,"a":13.4,"b":13.9,"m":-0.8,"n":0.8},
{"r":5,"c":2,"a":13.9,"b":14.7,"m":-0.5,"n":0.5},
{"r":5,"c":2,"a":8.5,"b":9.2,"m":-5.1,"n":-4.6},
{"r":5,"c":2,"a":8.6,"b":8.8,"m":-6.9,"n":-6.4},
{"r":5,"c":2,"a":9.15,"b":9.35,"m":-8.7,"n":-8.2},
{"r":5,"c":2,"a":5.6,"b":6.4,"m":-1.0,"n":0.3,"k":10},
{"r":5,"c":2,"a":5.0,"b":5.6,"m":-0.6,"n":0.4,"k":20},

{"r":5,"c":3,"a":4.9,"b":10.0,"m":-0.8,"n":0.7},
{"r":5,"c":3,"a":10.0,"b":14.8,"m":-0.5,"n":0.5},
{"r":5,"c":3,"a":7.0,"b":7.2,"m":0.7,"n":1.1},
{"r":5,"c":3,"a":5.0,"b":5.5,"m":-0.5,"n":0.5,"k":25},

{"r":5,"c":4,"a":4.9,"b":8.0,"m":-0.8,"n":0.8},
{"r":5,"c":4,"a":8.0,"b":14.7,"m":-0.5,"n":0.4},
{"r":5,"c":4,"a":6.0,"b":6.2,"m":0.8,"n":1.2},
{"r":5,"c":4,"a":5.0,"b":5.5,"m":-0.5,"n":0.5,"k":25},

{"r":5,"c":5,"a":4.9,"b":10.5,"m":-1.0,"n":0.5},
{"r":5,"c":5,"a":10.5,"b":13.7,"m":-0.6,"n":0.3},
{"r":5,"c":5,"a":13.8,"b":14.0,"m":-0.5,"n":0.1},
{"r":5,"c":5,"a":14.15,"b":14.3,"m":-0.5,"n":0.1},
{"r":5,"c":5,"a":14.4,"b":14.5,"m":-0.5,"n":0.1},
{"r":5,"c":5,"a":5.0,"b":5.6,"m":-1.0,"n":0.9},
{"r":5,"c":5,"a":5.05,"b":5.5,"m":-0.6,"n":0.4,"k":25},

{"r":5,"c":6,"a":4.8,"b":5.2,"m":-0.9,"n":1.1},
{"r":5,"c":6,"a":5.2,"b":5.6,"m":-0.7,"n":1.9},
{"r":5,"c":6,"a":5.6,"b":6.0,"m":-0.2,"n":2.7},
{"r":5,"c":6,"a":6.0,"b":6.4,"m":0.5,"n":3.4},
{"r":5,"c":6,"a":6.4,"b":6.8,"m":1.2,"n":4.2},
{"r":5,"c":6,"a":6.8,"b":7.2,"m":1.9,"n":4.9},
{"r":5,"c":6,"a":7.2,"b":7.6,"m":2.6,"n":5.7},
{"r":5,"c":6,"a":7.6,"b":8.0,"m":3.4,"n":6.4},
{"r":5,"c":6,"a":8.0,"b":8.4,"m":4.1,"n":7.2},
{"r":5,"c":6,"a":8.4,"b":8.8,"m":4.9,"n":7.9},
{"r":5,"c":6,"a":8.8,"b":9.2,"m":5.7,"n":8.7},
{"r":5,"c":6,"a":9.2,"b":9.6,"m":6.5,"n":9.4},
{"r":5,"c":6,"a":9.6,"b":10.0,"m":7.4,"n":10.0},
{"r":5,"c":6,"a":8.1,"b":8.3,"m":3.0,"n":3.5},
{"r":5,"c":6,"a":10.2,"b":10.4,"m":0.0,"n":0.5},
{"r":5,"c":6,"a":10.7,"b":10.85,"m":0.0,"n":0.5},
{"r":5,"c":6,"a":11.4,"b":11.6,"m":0.0,"n":0.5},
{"r":5,"c":6,"a":4.85,"b":5.3,"m":-0.4,"n":0.5,"k":25}
]},
"facet": {
  "row": {"field": "r", "type": "ordinal", "header": {"labels": false, "labelPadding": 0, "title": "M\u00a0\u00a0\u00a0\u00a0\u00a0\u00a0\u00a0\u00a0\u00a0\u00a0\u00a0\u00a0\u200b", "titleOrient": "left", "titleAngle": -90, "titleFontSize": 20, "titleFontWeight": "normal", "titleColor": "#000000", "titleFont": "Liberation Sans", "titlePadding": -22}},
  "column": {"field": "c", "type": "ordinal", "header": {"labels": false, "labelPadding": 0, "title": "A", "titleOrient": "bottom", "titleFontSize": 20, "titleFontWeight": "normal", "titleColor": "#000000", "titleFont": "Liberation Sans", "titlePadding": -3}}
},
"spacing": {"row": 9.3, "column": 9.4},
"spec": {
  "width": 198,
  "height": 129,
  "layer": [
    {
      "transform": [{"filter": "datum.s1 == null && datum.k == null"}],
      "mark": {"type": "rect", "fill": "#132B43", "stroke": "#132B43", "strokeWidth": 0.6},
      "encoding": {
        "x": {"field": "a", "type": "quantitative", "scale": {"domain": [4.03, 15.36], "nice": false, "zero": false},
          "axis": {"values": [5, 6.25, 7.5, 8.75, 10, 11.25, 12.5, 13.75, 15], "tickCount": 30, "labelOverlap": false, "labelFlush": false,
            "labelExpr": "datum.value % 2.5 == 0 ? format(datum.value, '.1f') : ''",
            "tickOpacity": {"condition": {"test": "datum.value % 2.5 == 0", "value": 1}, "value": 0},
            "gridWidth": {"condition": {"test": "datum.value % 2.5 == 0", "value": 1.1}, "value": 0.5}}},
        "x2": {"field": "b"},
        "y": {"field": "m", "type": "quantitative", "scale": {"domain": [-11, 36.67], "nice": false, "zero": false},
          "axis": {"values": [-10, -7.5, -5, -2.5, 0, 2.5, 5, 7.5, 10], "tickCount": 30, "labelOverlap": false, "labelFlush": false,
            "labelExpr": "datum.value % 5 == 0 ? '' + datum.value : ''",
            "tickOpacity": {"condition": {"test": "datum.value % 5 == 0", "value": 1}, "value": 0},
            "gridWidth": {"condition": {"test": "datum.value % 5 == 0", "value": 1.1}, "value": 0.5}}},
        "y2": {"field": "n"}
      }
    },
    {
      "transform": [{"filter": "datum.k != null"}],
      "mark": {"type": "rect"},
      "encoding": {
        "x": {"field": "a", "type": "quantitative"},
        "x2": {"field": "b"},
        "y": {"field": "m", "type": "quantitative"},
        "y2": {"field": "n"},
        "color": {"field": "k", "type": "quantitative", "scale": {"domain": [1, 60], "range": ["#132B43", "#56B1F7"]}, "legend": null}
      }
    },
    {
      "transform": [{"filter": "datum.s1 != null"}],
      "mark": {"type": "rect", "fill": "#CCCCCC", "stroke": "#A8A8A8", "strokeWidth": 1},
      "encoding": {"x": {"datum": 4.03}, "x2": {"datum": 15.36}, "y": {"datum": 23.74}, "y2": {"datum": 36.67}}
    },
    {
      "transform": [{"filter": "datum.s1 != null"}],
      "mark": {"type": "rect", "fill": "#CCCCCC", "stroke": "#A8A8A8", "strokeWidth": 1},
      "encoding": {"x": {"datum": 4.03}, "x2": {"datum": 15.36}, "y": {"datum": 10.8}, "y2": {"datum": 23.74}}
    },
    {
      "transform": [{"filter": "datum.s1 != null"}],
      "mark": {"type": "text", "font": "Liberation Sans", "fontSize": 16, "color": "#1A1A1A", "align": "center", "baseline": "middle"},
      "encoding": {"x": {"datum": 9.695}, "y": {"datum": 30.2}, "text": {"field": "s1"}}
    },
    {
      "transform": [{"filter": "datum.s1 != null"}],
      "mark": {"type": "text", "font": "Liberation Sans", "fontSize": 16, "color": "#1A1A1A", "align": "center", "baseline": "middle"},
      "encoding": {"x": {"datum": 9.695}, "y": {"datum": 17.27}, "text": {"field": "s2"}}
    }
  ]
}
}
